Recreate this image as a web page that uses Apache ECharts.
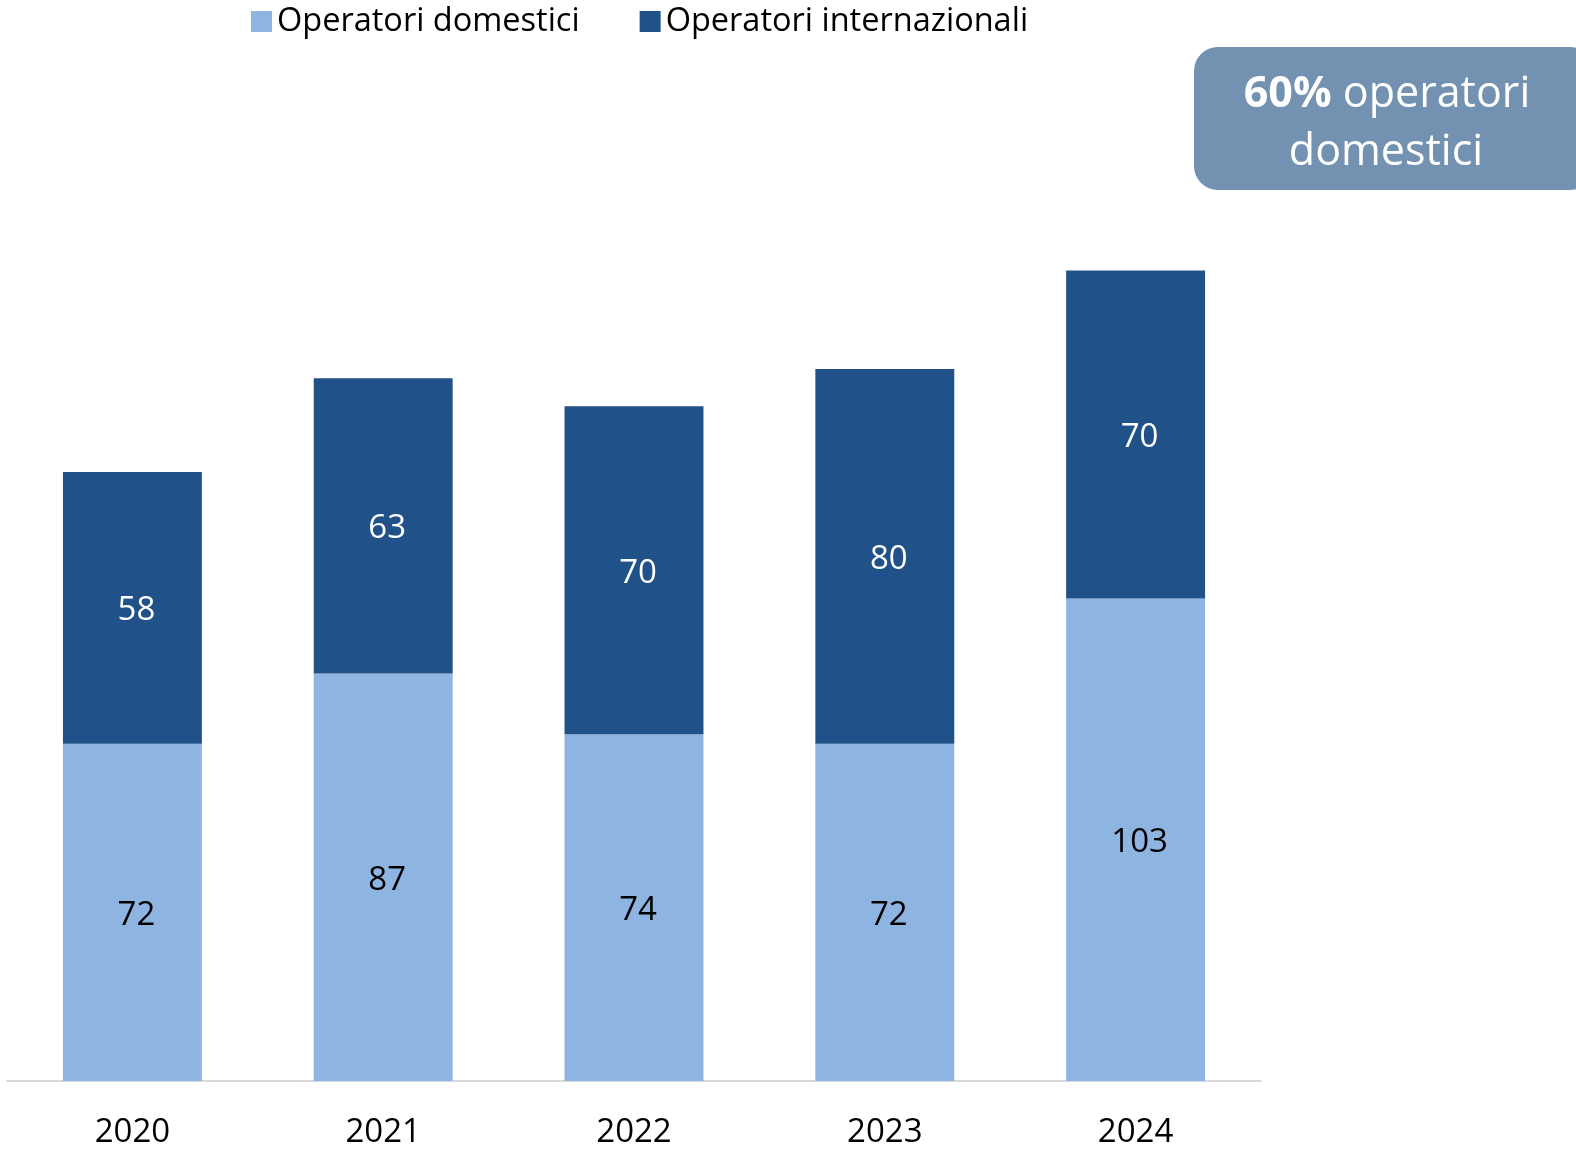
<!DOCTYPE html>
<html>
<head>
<meta charset="utf-8">
<script src="https://cdn.jsdelivr.net/npm/echarts@6/dist/echarts.min.js"></script>
<style>
  html, body { margin: 0; padding: 0; background: #fff; }
  #chart { width: 1576px; height: 1149px; }
</style>
</head>
<body>
<div id="chart"></div>
<script>
const years = ['2020', '2021', '2022', '2023', '2024']
const domestici = [72, 87, 74, 72, 103]
const internazionali = [58, 63, 70, 80, 70]

const font = '"Open Sans", "Noto Sans", sans-serif'
const chart = echarts.init(document.getElementById('chart'))

chart.setOption({
  backgroundColor: '#ffffff',
  animation: false,
  textStyle: { fontFamily: font },
  legend: {
    left: 246,
    top: 0,
    itemWidth: 21,
    itemHeight: 21,
    itemGap: 60,
    icon: 'rect',
    textStyle: { fontSize: 32.5, color: '#000', fontFamily: font },
    data: ['Operatori domestici', 'Operatori internazionali']
  },
  grid: { left: 7, right: 315, top: 144, bottom: 67, containLabel: false },
  xAxis: {
    type: 'category',
    data: years,
    axisLine: { lineStyle: { color: '#d9d9d9', width: 2 } },
    axisTick: { show: false },
    axisLabel: { fontSize: 33, color: '#000', margin: 35, fontFamily: font }
  },
  yAxis: {
    type: 'value',
    min: 0,
    max: 200,
    show: false,
    splitLine: { show: false }
  },
  series: [
    {
      name: 'Operatori domestici',
      type: 'bar',
      stack: 'tot',
      barWidth: '55.4%',
      itemStyle: { color: '#8eb4e2' },
      label: { show: true, position: 'inside', offset: [4, 3], color: '#000', fontSize: 33, fontFamily: font },
      data: domestici
    },
    {
      name: 'Operatori internazionali',
      type: 'bar',
      stack: 'tot',
      barWidth: '55.4%',
      itemStyle: { color: '#215189' },
      label: { show: true, position: 'inside', offset: [4, 3], color: '#fff', fontSize: 33, fontFamily: font },
      data: internazionali
    }
  ],
  graphic: [
    {
      type: 'rect',
      left: 1194,
      top: 47,
      shape: { width: 400, height: 143, r: 24 },
      style: { fill: '#7391b0' }
    },
    {
      type: 'text',
      x: 1387,
      y: 95,
      style: {
        text: '{b|60%} operatori',
        rich: {
          b: { fontSize: 43, fontWeight: 'bold', fill: '#fff', fontFamily: font }
        },
        fontSize: 43,
        fill: '#fff',
        fontFamily: font,
        align: 'center',
        verticalAlign: 'middle'
      }
    },
    {
      type: 'text',
      x: 1386,
      y: 153,
      style: {
        text: 'domestici',
        fontSize: 43,
        fill: '#fff',
        fontFamily: font,
        align: 'center',
        verticalAlign: 'middle'
      }
    }
  ]
})
</script>
</body>
</html>
